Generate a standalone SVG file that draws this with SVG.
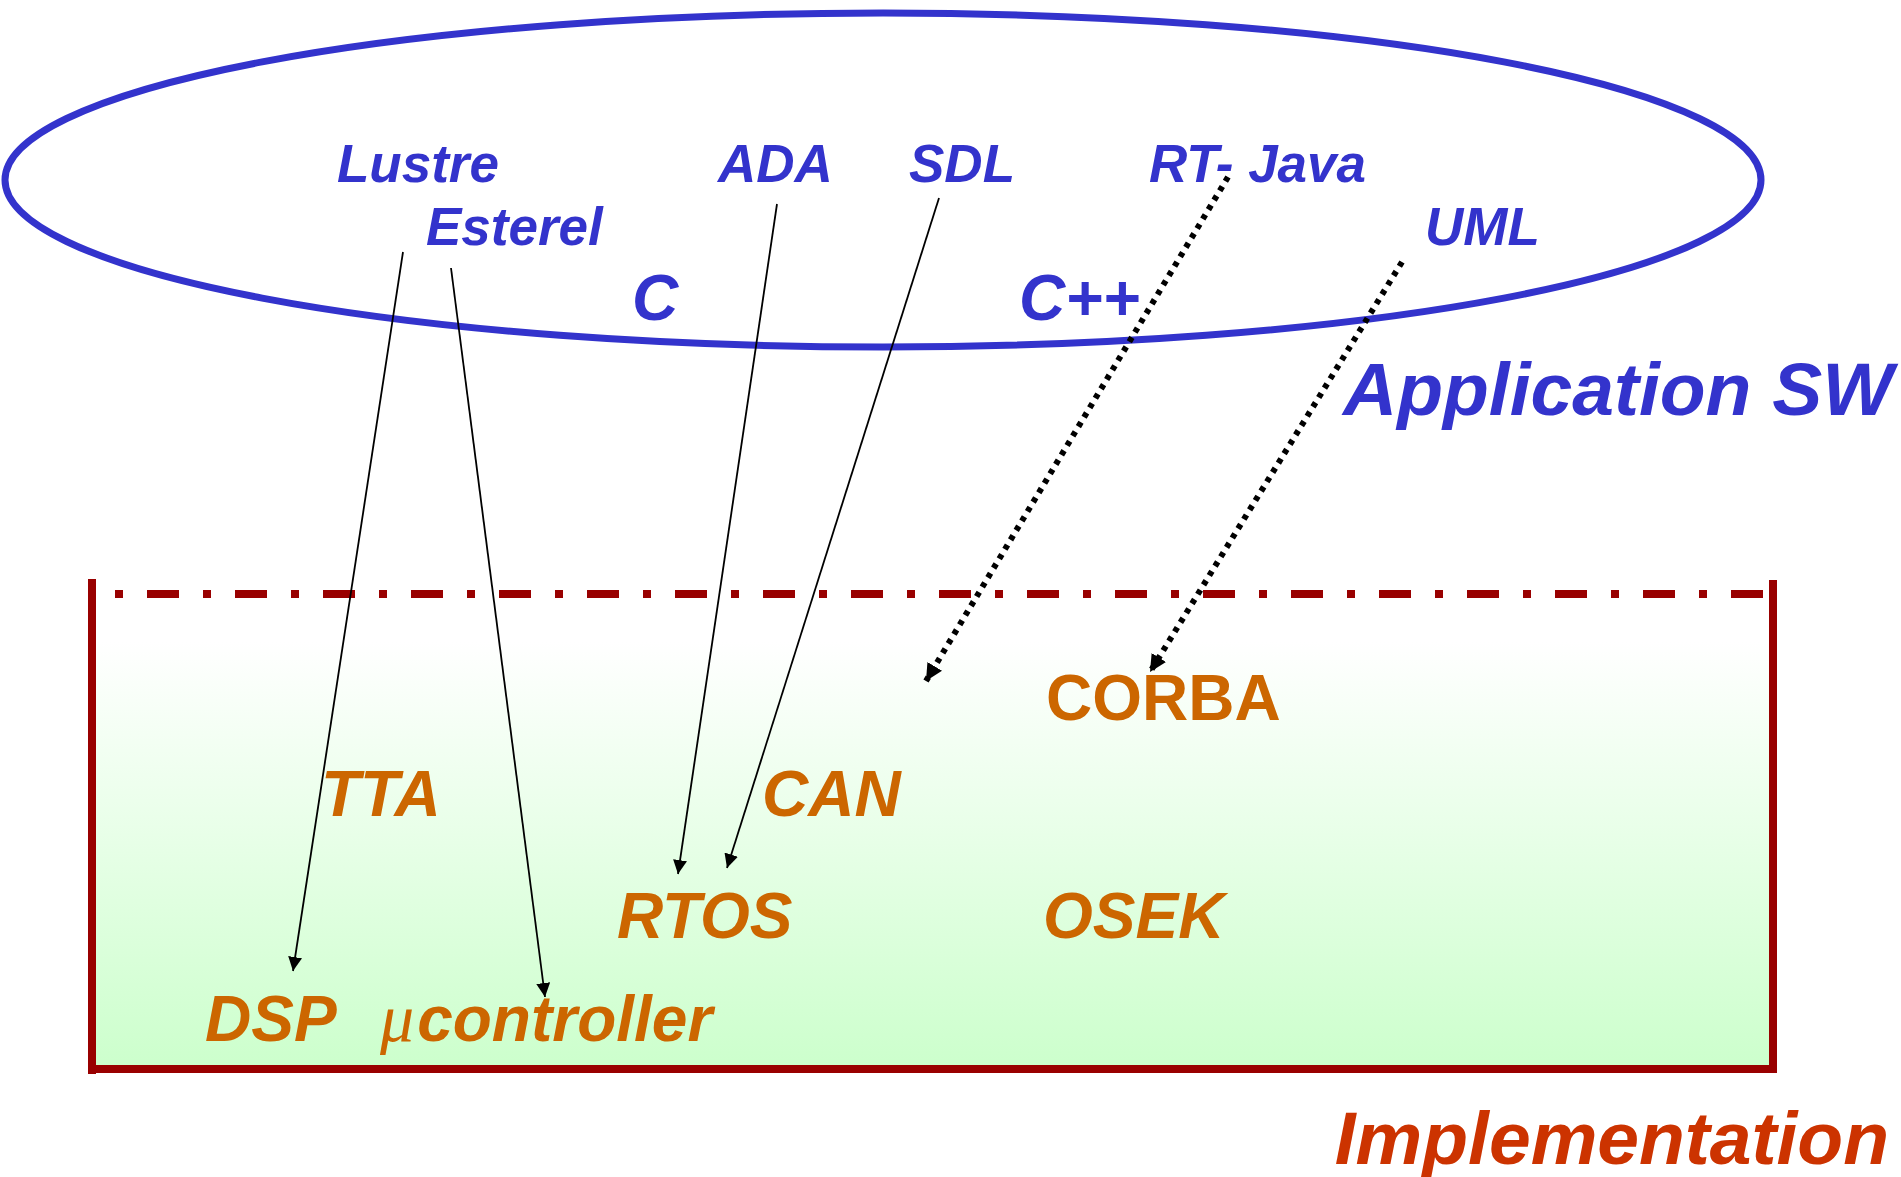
<svg xmlns="http://www.w3.org/2000/svg" width="1901" height="1177" viewBox="0 0 1901 1177">
<style>
.sw{font-family:"Liberation Sans",Arial,sans-serif;font-weight:bold;font-style:italic;fill:#3333CC;font-size:53px}
.big{font-size:64px}
.impl{font-family:"Liberation Sans",Arial,sans-serif;font-weight:bold;font-style:italic;fill:#CC6600;font-size:64px}
.up{font-style:normal}
.title{font-size:75px}
.solid{stroke:#000;stroke-width:1.8;fill:none}
.dot{stroke:#000;stroke-width:6;stroke-dasharray:5 6;fill:none}
.border{stroke:#990000;stroke-width:8;fill:none}
</style>
<defs>
<linearGradient id="g" x1="0" y1="0" x2="0" y2="1">
<stop offset="0" stop-color="#FFFFFF"/>
<stop offset="0.1" stop-color="#FFFFFF"/>
<stop offset="1" stop-color="#CCFFCC"/>
</linearGradient>
<marker id="arr" viewBox="0 0 14 14" refX="14" refY="7" markerWidth="14" markerHeight="14" markerUnits="userSpaceOnUse" orient="auto">
<path d="M0,0 L14,7 L0,14 z" fill="#000"/>
</marker>
<marker id="arr2" viewBox="0 0 17 17" refX="17" refY="8.5" markerWidth="17" markerHeight="17" markerUnits="userSpaceOnUse" orient="auto">
<path d="M0,0 L17,8.5 L0,17 z" fill="#000"/>
</marker>
</defs>

<g id="implementation-box">
<rect x="92" y="594" width="1681" height="475" fill="url(#g)"/>
<line class="border" x1="92" y1="579" x2="92" y2="1074"/>
<line class="border" x1="88" y1="1069" x2="1777" y2="1069"/>
<line class="border" x1="1773" y1="580" x2="1773" y2="1073"/>
<line class="border" x1="115" y1="594" x2="1768" y2="594" stroke-dasharray="8 24 32 24"/>
</g>

<g id="application-ellipse">
<ellipse cx="883" cy="180" rx="878" ry="167" fill="none" stroke="#3333CC" stroke-width="7"/>
</g>

<g id="n-lustre"><text class="sw" x="337" y="182">Lustre</text></g>
<g id="n-esterel"><text class="sw" x="426" y="245">Esterel</text></g>
<g id="n-ada"><text class="sw" x="718" y="182">ADA</text></g>
<g id="n-sdl"><text class="sw" x="909" y="182">SDL</text></g>
<g id="n-rtjava"><text class="sw" x="1149" y="182">RT- Java</text></g>
<g id="n-uml"><text class="sw" x="1425" y="245">UML</text></g>
<g id="n-c"><text class="sw big" x="632" y="320">C</text></g>
<g id="n-cpp"><text class="sw big" x="1019" y="320">C++</text></g>
<g id="label-appsw"><text class="sw title" x="1893" y="415" text-anchor="end">Application SW</text></g>

<g id="n-corba"><text class="impl up" x="1046" y="720">CORBA</text></g>
<g id="n-tta"><text class="impl" x="321" y="816">TTA</text></g>
<g id="n-can"><text class="impl" x="762" y="816">CAN</text></g>
<g id="n-rtos"><text class="impl" x="617" y="938">RTOS</text></g>
<g id="n-osek"><text class="impl" x="1043" y="938">OSEK</text></g>
<g id="n-dsp"><text class="impl" x="205" y="1041">DSP</text></g>
<g id="n-ucontroller"><text class="impl" x="380" y="1041"><tspan font-family="'Liberation Serif',serif" font-weight="normal" font-size="68">μ</tspan><tspan dx="3">controller</tspan></text></g>
<g id="label-impl"><text class="impl title" x="1889" y="1164" text-anchor="end" style="fill:#CC3300">Implementation</text></g>

<g id="connectors">
<line class="solid" x1="403" y1="252" x2="293" y2="971" marker-end="url(#arr)"/>
<line class="solid" x1="451" y1="268" x2="545" y2="997" marker-end="url(#arr)"/>
<line class="solid" x1="777" y1="204" x2="678" y2="874" marker-end="url(#arr)"/>
<line class="solid" x1="939" y1="198" x2="727" y2="868" marker-end="url(#arr)"/>
<line class="dot" x1="1228" y1="177" x2="926" y2="681" marker-end="url(#arr2)"/>
<line class="dot" x1="1402" y1="262" x2="1150" y2="672" marker-end="url(#arr2)"/>
</g>
</svg>
